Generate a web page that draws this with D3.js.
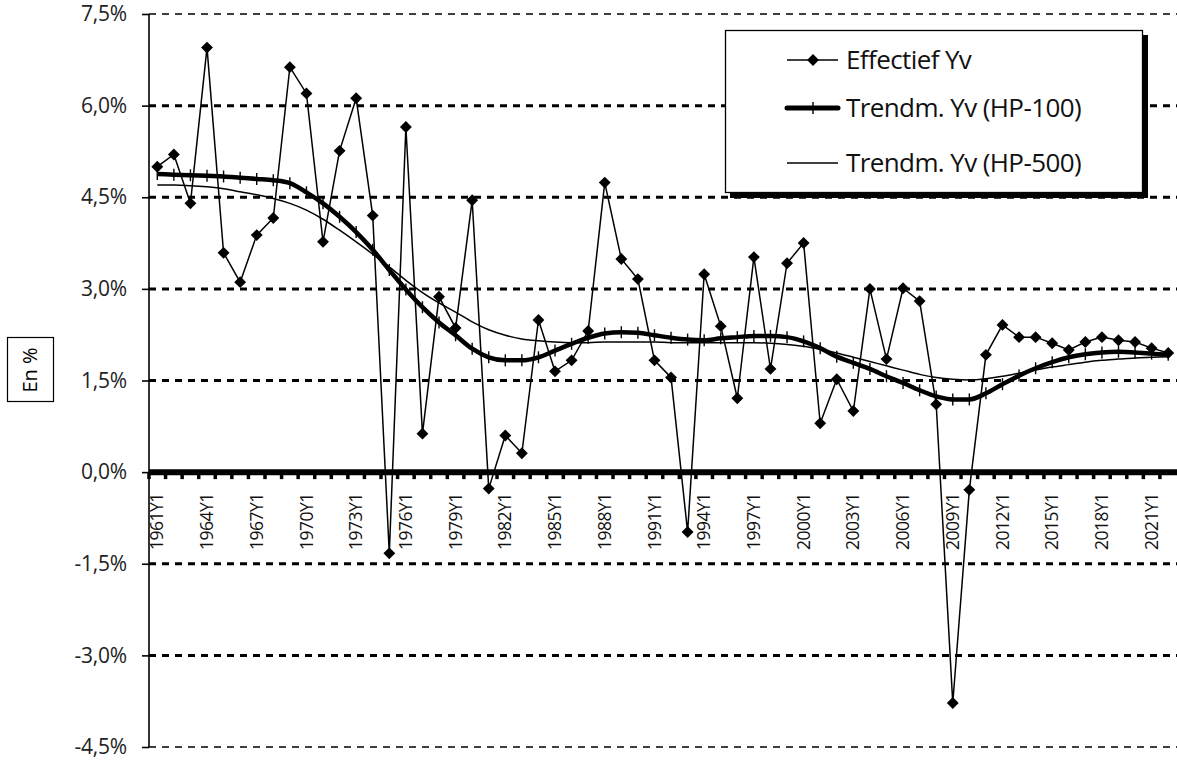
<!DOCTYPE html>
<html lang="nl">
<head>
<meta charset="utf-8">
<script src="https://d3js.org/d3.v7.min.js"></script>
<style>
  body { margin: 0; background: #fff; }
  svg { display: block; font-family: "Open Sans", "DejaVu Sans", sans-serif; }
  .grid line { stroke: #000; stroke-width: 3; stroke-dasharray: 7,6; }
  .grid line.edge { stroke-width: 1.4; }
</style>
</head>
<body>
<svg width="1177" height="762"></svg>
<script>
// years 1961..2022, one value per year
const years = d3.range(1961, 2023);
const labelYears = d3.range(1961, 2023, 3);
const yTicks = [-4.5, -3.0, -1.5, 0.0, 1.5, 3.0, 4.5, 6.0, 7.5];

const effectief = [
  5.0, 5.2, 4.4, 6.95, 3.59, 3.11, 3.88, 4.16, 6.63, 6.2,
  3.77, 5.26, 6.12, 4.2, -1.33, 5.65, 0.63, 2.87, 2.36, 4.45,
  -0.27, 0.6, 0.31, 2.49, 1.65, 1.83, 2.31, 4.74, 3.49, 3.16,
  1.83, 1.55, -0.98, 3.24, 2.39, 1.21, 3.52, 1.69, 3.42, 3.75,
  0.8, 1.52, 1.0, 3.0, 1.85, 3.01, 2.8, 1.11, -3.78, -0.29,
  1.92, 2.41, 2.21, 2.21, 2.11, 2.0, 2.13, 2.21, 2.16, 2.13,
  2.03, 1.95
];
const hp100 = [
  4.88, 4.87, 4.86, 4.85, 4.84, 4.82, 4.80, 4.78, 4.73, 4.58,
  4.40, 4.18, 3.93, 3.64, 3.31, 2.99, 2.70, 2.45, 2.24, 2.02,
  1.88, 1.83, 1.83, 1.88, 1.99, 2.10, 2.20, 2.27, 2.29, 2.28,
  2.24, 2.20, 2.17, 2.16, 2.19, 2.21, 2.23, 2.23, 2.21, 2.14,
  2.03, 1.89, 1.79, 1.69, 1.57, 1.46, 1.34, 1.24, 1.19, 1.19,
  1.29, 1.44, 1.58, 1.70, 1.80, 1.88, 1.93, 1.96, 1.97, 1.96,
  1.94, 1.92
];
const hp500 = [
  4.70, 4.70, 4.69, 4.67, 4.64, 4.59, 4.54, 4.48, 4.40, 4.29,
  4.14, 3.96, 3.77, 3.57, 3.36, 3.14, 2.94, 2.77, 2.62, 2.46,
  2.33, 2.24, 2.18, 2.15, 2.13, 2.12, 2.12, 2.13, 2.13, 2.13,
  2.13, 2.12, 2.12, 2.12, 2.12, 2.12, 2.12, 2.11, 2.09, 2.06,
  2.01, 1.95, 1.88, 1.81, 1.74, 1.67, 1.60, 1.55, 1.52, 1.51,
  1.53, 1.57, 1.62, 1.67, 1.72, 1.76, 1.80, 1.83, 1.85, 1.87,
  1.88, 1.89
];

const svg = d3.select("svg");
const x0 = 149, x1 = 1176.5;
const x = d3.scaleBand().domain(years).range([x0, x1]).padding(0);
const y = d3.scaleLinear().domain([-4.5, 7.5]).range([747, 14]);
const cx = d => x(d) + x.bandwidth() / 2;
// plain hyphen and decimal comma, like the original
const fmt = v => v.toFixed(1).replace(".", ",") + "%";

// dashed gridlines
svg.append("g").attr("class", "grid")
  .selectAll("line").data(yTicks.filter(v => v !== 0)).join("line")
  .attr("class", v => (v === 7.5 || v === -4.5) ? "edge" : null)
  .attr("x1", x0).attr("x2", 1177)
  .attr("y1", v => y(v)).attr("y2", v => y(v));

// y axis
const yAxis = svg.append("g")
  .attr("transform", "translate(" + x0 + ",0)")
  .call(d3.axisLeft(y).tickValues(yTicks).tickFormat(fmt).tickSize(7).tickPadding(15));
yAxis.select(".domain").attr("stroke-width", 1.6).attr("d", "M0," + y(7.5) + "V" + y(-4.5));
yAxis.selectAll(".tick line").attr("stroke-width", 1.6);
yAxis.selectAll("text").attr("font-size", 21).attr("fill", "#222")
  .attr("letter-spacing", "-0.2px")
  .attr("font-family", "'Open Sans', sans-serif");

// zero axis with category ticks
const xAxis = svg.append("g")
  .attr("transform", "translate(0," + y(0) + ")");
xAxis.append("line").attr("x1", x0).attr("x2", 1177).attr("y1", 0).attr("y2", 0)
  .attr("stroke", "#000").attr("stroke-width", 6);
xAxis.selectAll("line.tk").data(years).join("line").attr("class", "tk")
  .attr("x1", d => x(d)).attr("x2", d => x(d)).attr("y1", 0).attr("y2", 7)
  .attr("stroke", "#000").attr("stroke-width", 3.5);
xAxis.selectAll("text").data(labelYears).join("text")
  .attr("transform", d => "translate(" + cx(d) + ",21) rotate(-90)")
  .attr("text-anchor", "end").attr("dy", "0.35em")
  .attr("font-size", 17.5).attr("letter-spacing", "-0.5px").attr("fill", "#111")
  .text(d => d + "Y1");

// series
const line = d3.line().x((d, i) => cx(years[i])).y(d => y(d));
const lineSmooth = d3.line().x((d, i) => cx(years[i])).y(d => y(d)).curve(d3.curveMonotoneX);

svg.append("path").datum(hp500).attr("d", lineSmooth)
  .attr("fill", "none").attr("stroke", "#000").attr("stroke-width", 1.5);

svg.append("path").datum(hp100).attr("d", lineSmooth)
  .attr("fill", "none").attr("stroke", "#000").attr("stroke-width", 4.5);
svg.append("g").selectAll("line").data(hp100).join("line")
  .attr("x1", (d, i) => cx(years[i])).attr("x2", (d, i) => cx(years[i]))
  .attr("y1", d => y(d) - 6).attr("y2", d => y(d) + 6)
  .attr("stroke", "#000").attr("stroke-width", 1.4);

svg.append("path").datum(effectief).attr("d", line)
  .attr("fill", "none").attr("stroke", "#000").attr("stroke-width", 1.5);
const diamond = d3.symbol().type(d3.symbolDiamond2).size(90);
svg.append("g").selectAll("path").data(effectief).join("path")
  .attr("d", diamond)
  .attr("transform", (d, i) => "translate(" + cx(years[i]) + "," + y(d) + ")")
  .attr("fill", "#000");

// legend with shadow
const lg = svg.append("g");
lg.append("rect").attr("x", 730).attr("y", 35).attr("width", 418).attr("height", 163).attr("fill", "#000");
lg.append("rect").attr("x", 725.5).attr("y", 30.5).attr("width", 417).attr("height", 162)
  .attr("fill", "#fff").attr("stroke", "#000").attr("stroke-width", 1.3);
const legendItems = [
  { name: "Effectief Yv", w: 1.5, marker: "diamond" },
  { name: "Trendm. Yv (HP-100)", w: 5, marker: "plus" },
  { name: "Trendm. Yv (HP-500)", w: 1.5, marker: null }
];
const rowY = [60, 108, 163];
legendItems.forEach((it, i) => {
  const g = lg.append("g").attr("transform", "translate(0," + rowY[i] + ")");
  g.append("line").attr("x1", 787).attr("x2", 838).attr("stroke", "#000")
    .attr("stroke-width", it.w).attr("stroke-linecap", it.w > 2 ? "round" : "butt");
  if (it.marker === "diamond") {
    g.append("path").attr("d", diamond).attr("transform", "translate(813,0)").attr("fill", "#000");
  } else if (it.marker === "plus") {
    g.append("line").attr("x1", 813).attr("x2", 813).attr("y1", -6).attr("y2", 6)
      .attr("stroke", "#000").attr("stroke-width", 1.4);
  }
  g.append("text").attr("x", 846).attr("dy", "0.35em").attr("font-size", 26)
    .attr("fill", "#111").attr("letter-spacing", "-0.6px").text(it.name);
});

// y title in a box
const yt = svg.append("g");
yt.append("rect").attr("x", 7.5).attr("y", 337.5).attr("width", 46).attr("height", 64)
  .attr("fill", "#fff").attr("stroke", "#000").attr("stroke-width", 1.2);
yt.append("text").attr("transform", "translate(30,370) rotate(-90)")
  .attr("text-anchor", "middle").attr("dy", "0.35em").attr("font-size", 20).text("En %");
</script>
</body>
</html>
